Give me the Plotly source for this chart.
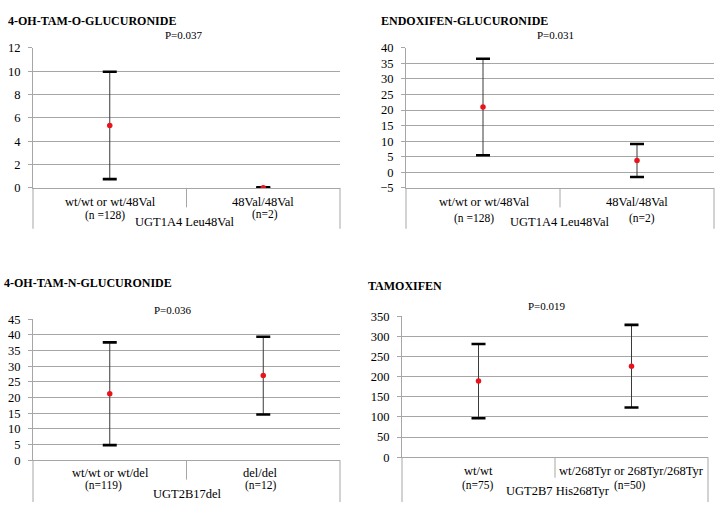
import plotly.graph_objects as go

W, H = 716, 509

# ---- data ----
titles = ["4-OH-TAM-O-GLUCURONIDE", "ENDOXIFEN-GLUCURONIDE",
          "4-OH-TAM-N-GLUCURONIDE", "TAMOXIFEN"]
p_values = ["P=0.037", "P=0.031", "P=0.036", "P=0.019"]
genes = ["UGT1A4 Leu48Val", "UGT1A4 Leu48Val", "UGT2B17del", "UGT2B7 His268Tyr"]
categories = [
    ["wt/wt or wt/48Val", "48Val/48Val"],
    ["wt/wt or wt/48Val", "48Val/48Val"],
    ["wt/wt or wt/del", "del/del"],
    ["wt/wt", "wt/268Tyr or 268Tyr/268Tyr"],
]
n_labels = [
    ["(n =128)", "(n=2)"],
    ["(n =128)", "(n=2)"],
    ["(n=119)", "(n=12)"],
    ["(n=75)", "(n=50)"],
]
means = [[5.35, 0.02], [21.0, 3.8], [21.2, 27.0], [189, 226]]
sds = [[4.6, 0.03], [15.5, 5.3], [16.4, 12.4], [92, 102.5]]
y_ranges = [[0, 12], [-5, 40], [0, 45], [0, 350]]
y_dticks = [2, 5, 5, 50]

# ---- layout geometry (pixels) ----
geo = [
    dict(x0=33, x1=340, yt=42, yb=186, box=228, div=206),
    dict(x0=406, x1=714, yt=42, yb=186, box=228, div=206),
    dict(x0=33, x1=340, yt=321, yb=466, box=509, div=486),
    dict(x0=402, x1=708, yt=318, yb=463, box=509, div=484),
]
title_pos = [(6, 14), (379, 14), (2, 284), (366, 287)]
p_pos = [(184, 29), (555, 29), (173, 312), (547, 307)]
cat_pos = [
    [(110, 201), (263, 201)],
    [(484, 201), (637, 201)],
    [(110, 479), (260, 479)],
    [(478, 477), (631, 477)],
]
n_pos = [
    [(105, 214), (265, 213)],
    [(474, 217), (642, 217)],
    [(103, 492), (261, 492)],
    [(478, 492), (630, 492)],
]
gene_pos = [(184, 221), (559, 221), (187, 501), (558, 498)]

def px(x):
    return x / W

def py(y):
    return 1 - y / H

GRID = "#a6a6a6"
FONT = "Liberation Serif, Times New Roman, Times, DejaVu Serif, serif"

fig = go.Figure()
shapes = []
annotations = []

for i in range(4):
    g = geo[i]
    ax = "" if i == 0 else str(i + 1)
    xa, ya = "x" + ax, "y" + ax
    xs = [0, 1]
    m = means[i]
    s = sds[i]
    lo = [a - b for a, b in zip(m, s)]
    hi = [a + b for a, b in zip(m, s)]
    fig.add_trace(go.Scatter(
        x=xs, y=m, mode="markers", xaxis=xa, yaxis=ya,
        marker=dict(size=1, color="rgba(0,0,0,0)"),
        error_y=dict(type="data", array=s, visible=True, color="#3a3a3a",
                     thickness=1, width=0),
        showlegend=False, hoverinfo="skip"))
    fig.add_trace(go.Scatter(
        x=xs + xs, y=lo + hi, mode="markers", xaxis=xa, yaxis=ya,
        marker=dict(symbol="line-ew-open", size=10, color="#000000",
                    line=dict(width=2.6, color="#000000")),
        showlegend=False, hoverinfo="skip"))
    fig.add_trace(go.Scatter(
        x=xs, y=m, mode="markers", xaxis=xa, yaxis=ya,
        marker=dict(symbol="circle", size=5.5, color="#e8141a"),
        showlegend=False))

    fig.layout["xaxis" + ax] = dict(
        domain=[px(g["x0"]), px(g["x1"])], anchor=ya,
        range=[-0.5, 1.5], showgrid=False, zeroline=False,
        showticklabels=False, ticks="", showline=True,
        linecolor=GRID, linewidth=1, fixedrange=True)
    fig.layout["yaxis" + ax] = dict(
        domain=[py(g["yb"]), py(g["yt"])], anchor=xa,
        range=y_ranges[i], dtick=y_dticks[i], tick0=0,
        showgrid=True, gridcolor=GRID, gridwidth=1,
        zeroline=False, showline=True, linecolor=GRID, linewidth=1,
        ticks="outside", ticklen=4, tickcolor=GRID,
        ticklabelstandoff=5,
        tickfont=dict(family=FONT, size=12.5, color="#000000"),
        fixedrange=True)

    for xx, yend in [(g["x0"], g["box"]), (g["x1"], g["box"]),
                     ((g["x0"] + g["x1"]) / 2, g["div"])]:
        shapes.append(dict(type="line", xref="paper", yref="paper",
                           x0=px(xx), x1=px(xx), y0=py(g["yb"]), y1=py(yend),
                           line=dict(color=GRID, width=1)))

    annotations.append(dict(
        text="<b>" + titles[i] + "</b>", xref="paper", yref="paper",
        x=px(title_pos[i][0]), y=py(title_pos[i][1]),
        xanchor="left", yanchor="middle", showarrow=False,
        font=dict(family=FONT, size=12, color="#000000")))
    annotations.append(dict(
        text=p_values[i], xref="paper", yref="paper",
        x=px(p_pos[i][0]), y=py(p_pos[i][1]),
        xanchor="center", yanchor="middle", showarrow=False,
        font=dict(family=FONT, size=11, color="#000000")))
    for j in range(2):
        annotations.append(dict(
            text=categories[i][j], xref="paper", yref="paper",
            x=px(cat_pos[i][j][0]), y=py(cat_pos[i][j][1]),
            xanchor="center", yanchor="middle", showarrow=False,
            font=dict(family=FONT, size=12.5, color="#000000")))
        annotations.append(dict(
            text=n_labels[i][j], xref="paper", yref="paper",
            x=px(n_pos[i][j][0]), y=py(n_pos[i][j][1]),
            xanchor="center", yanchor="middle", showarrow=False,
            font=dict(family=FONT, size=11.5, color="#000000")))
    annotations.append(dict(
        text=genes[i], xref="paper", yref="paper",
        x=px(gene_pos[i][0]), y=py(gene_pos[i][1]),
        xanchor="center", yanchor="middle", showarrow=False,
        font=dict(family=FONT, size=12.5, color="#000000")))

fig.update_layout(
    width=W, height=H, margin=dict(l=0, r=0, t=0, b=0),
    paper_bgcolor="#ffffff", plot_bgcolor="#ffffff",
    shapes=shapes, annotations=annotations, showlegend=False)

fig.write_html(
    "out.html", config={"displayModeBar": False},
    post_script="document.body.style.margin='0px';"
                "document.body.style.overflow='hidden';")
